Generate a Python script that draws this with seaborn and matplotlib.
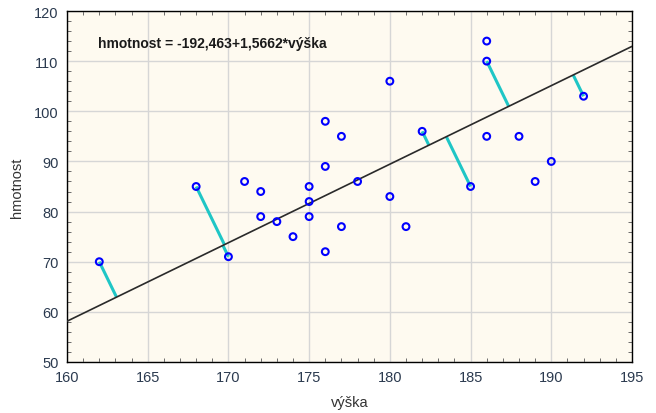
import numpy as np
import pandas as pd
import matplotlib
matplotlib.use("Agg")
import matplotlib.pyplot as plt
import seaborn as sns
from matplotlib.ticker import MultipleLocator

# data
vyska = [162, 168, 170, 171, 172, 172, 173, 174, 175, 175, 175, 176, 176, 176,
         177, 177, 178, 180, 180, 181, 182, 185, 186, 186, 186, 188, 189, 190, 192]
hmotnost = [70, 85, 71, 86, 84, 79, 78, 75, 85, 82, 79, 98, 89, 72,
            95, 77, 86, 106, 83, 77, 96, 85, 114, 110, 95, 95, 86, 90, 103]
# points with residual connectors
resid_x = [162, 168, 170, 182, 185, 186, 192]
resid_y = [70, 85, 71, 96, 85, 110, 103]
intercept = -192.463
slope = 1.5662
xticks = [160, 165, 170, 175, 180, 185, 190, 195]
yticks = [50, 60, 70, 80, 90, 100, 110, 120]

df = pd.DataFrame({"výška": vyska, "hmotnost": hmotnost})

sns.set_style("white")
plt.rcParams['font.family'] = ['Liberation Sans', 'DejaVu Sans']

fig = plt.figure(figsize=(6.56, 4.14), dpi=100)
ax = fig.add_axes([67/656, 51/414, (632-67)/656, (363-12)/414])
ax.set_facecolor("#FEFAF0")
ax.set_xlim(160, 195)
ax.set_ylim(50, 120)
ax.set_xticks(xticks)
ax.set_yticks(yticks)
ax.xaxis.set_minor_locator(MultipleLocator(1))
ax.yaxis.set_minor_locator(MultipleLocator(2))
ax.grid(True, which='major', color="#D6D6D6", linewidth=1.0)
ax.set_axisbelow(True)

# regression line
lx = np.array([160, 195])
ax.plot(lx, intercept + slope * lx, color="#2a2a2a", linewidth=1.2, zorder=3)

# residual connectors (orthogonal in display space)
fig.canvas.draw()
T = ax.transData
a = T.transform((160, intercept + slope * 160))
b = T.transform((195, intercept + slope * 195))
d = (b - a) / np.linalg.norm(b - a)
for px, py in zip(resid_x, resid_y):
    p = T.transform((px, py))
    foot = a + np.dot(p - a, d) * d
    fx, fy = T.inverted().transform(foot)
    ax.plot([px, fx], [py, fy], color="#1FC6C6", linewidth=2.2, zorder=2.5,
            solid_capstyle='butt')

sns.scatterplot(data=df, x="výška", y="hmotnost", ax=ax, marker='o',
                facecolor='none', edgecolor='#0000FF', linewidth=1.5, s=24,
                zorder=4)

ax.text(0.055, 0.91, "hmotnost = -192,463+1,5662*výška", transform=ax.transAxes,
        fontsize=10, fontweight='bold', color="#1a1a1a", va='center', ha='left')

for s in ax.spines.values():
    s.set_visible(True)
    s.set_color("#000000")
    s.set_linewidth(1.0)
ax.tick_params(which='major', direction='in', length=0, labelsize=10.5,
               labelcolor="#2b3a4f", pad=6, top=False, right=False)
ax.tick_params(which='minor', direction='in', length=3, color="#555555",
               top=True, right=True, bottom=True, left=True)
ax.set_xlabel("výška", fontsize=10.5, color="#333333", labelpad=8)
ax.set_ylabel("hmotnost", fontsize=10.5, color="#333333", labelpad=7)

fig.savefig("out.png", dpi=100, facecolor="white")
